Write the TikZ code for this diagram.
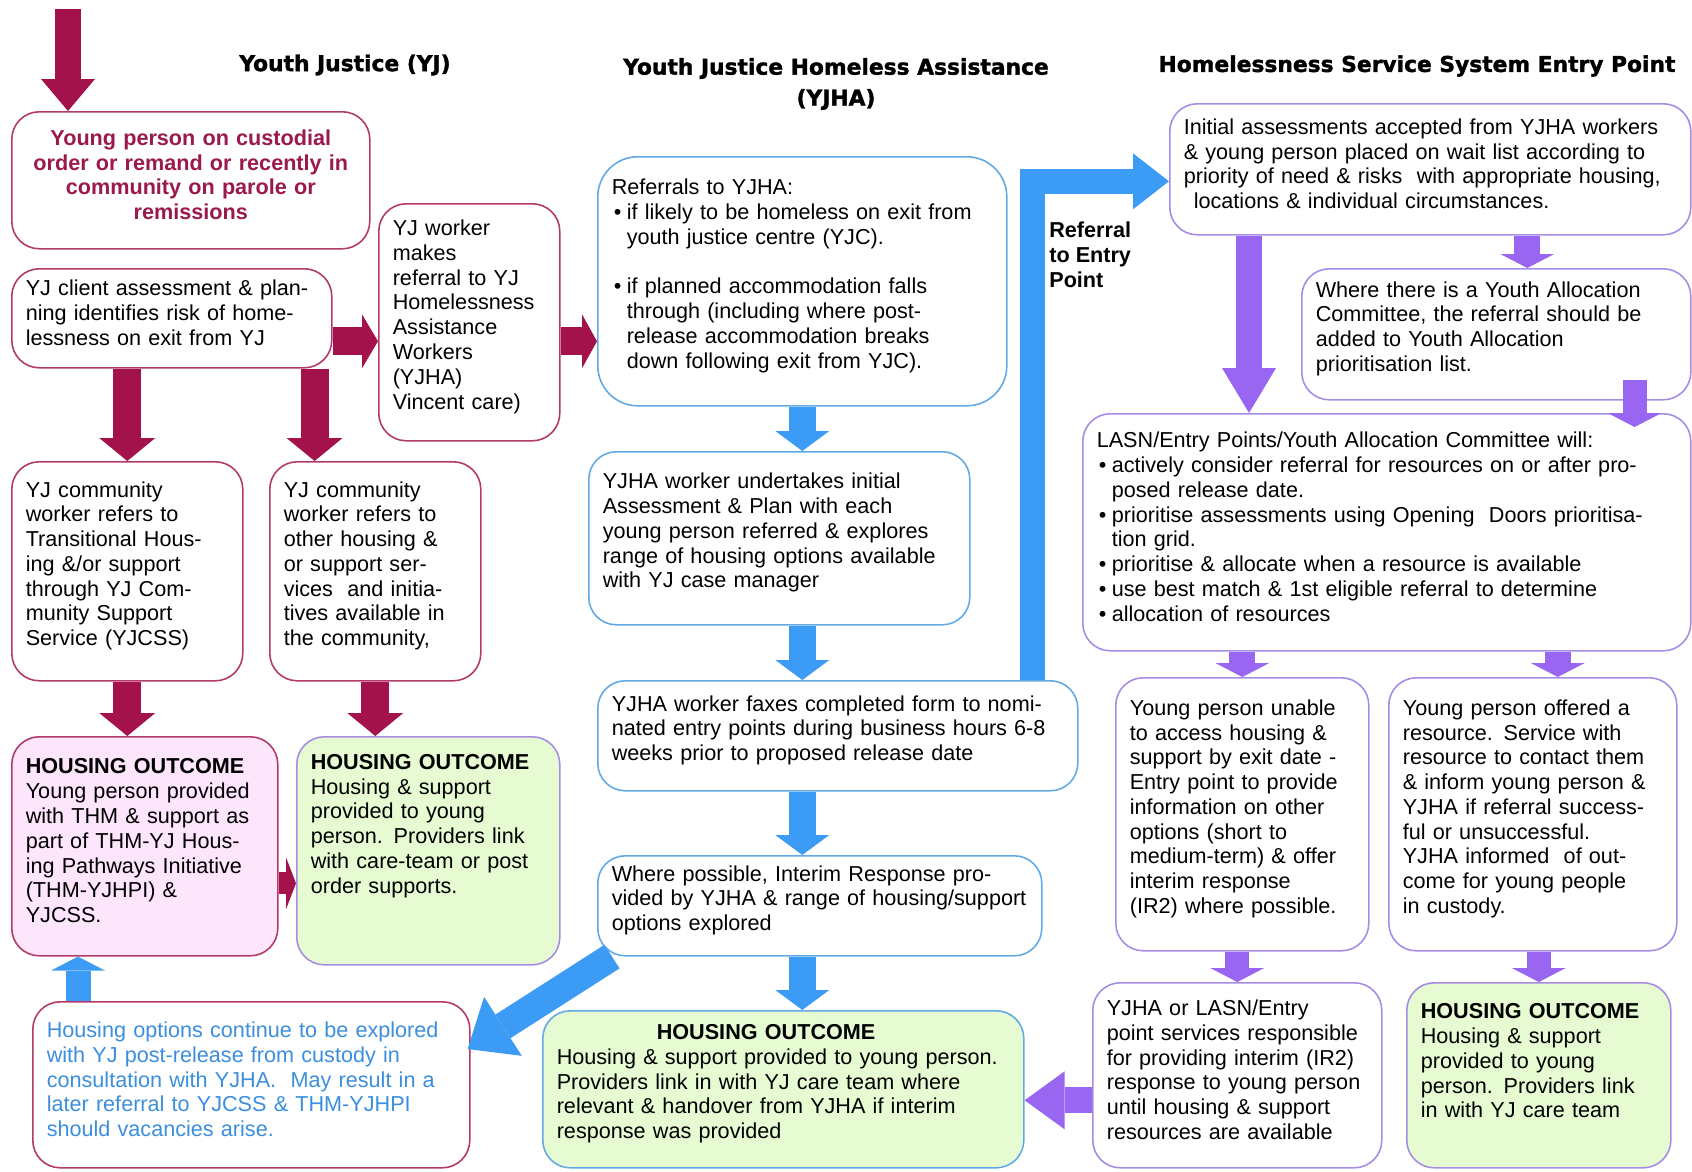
\documentclass[tikz,border=0pt]{standalone}
\usepackage{fontspec}
\setmainfont{Liberation Sans}
\newfontfamily\headfont{DejaVu Sans}[BoldFeatures={FakeBold=1.6}]
\usepackage{tikz}
\usetikzlibrary{arrows.meta,calc}
\usepackage{xcolor}

\definecolor{yjred}{HTML}{A3124A}
\definecolor{yjline}{HTML}{B23A68}
\definecolor{yjtext}{HTML}{9A1A4E}
\definecolor{yjblue}{HTML}{3C9BF5}
\definecolor{yjblueline}{HTML}{62AAE6}
\definecolor{yjpurple}{HTML}{9966F2}
\definecolor{yjpurpleline}{HTML}{A68CE4}
\definecolor{pinkfill}{HTML}{FDE5FB}
\definecolor{greenfill}{HTML}{E6FBD2}
\definecolor{optblue}{HTML}{3B8FDD}

\newcommand{\bul}{\hspace*{0.4mm}\makebox[2.6mm][l]{\textbullet}}
\newcommand{\ind}{\hspace*{3mm}}
\newcommand{\boxend}[1]{\par\vspace*{#1}}

\begin{document}
\begin{tikzpicture}[
    x=0.2mm, y=-0.2mm,
    every node/.style={font=\fontsize{12.3}{14.1}\selectfont, inner xsep=2.8mm, inner ysep=1.5mm},
    box/.style={draw=#1, line width=0.9pt, fill=white, rounded corners=5.5mm,
        anchor=north west, align=left, execute at end node={\boxend{2.2mm}}},
    headline/.style={font=\headfont\bfseries\fontsize{12.4}{17.6}\selectfont, align=center},
    redflow/.style={draw=yjred, line width=5.6mm,
        -{Triangle[length=4.6mm, width=11.2mm, line width=0pt]}},
    blueflow/.style={draw=yjblue, line width=5.4mm,
        -{Triangle[length=4mm, width=10.8mm, line width=0pt]}},
    purpleflow/.style={draw=yjpurple, line width=5.2mm,
        -{Triangle[length=2.8mm, width=10.8mm, line width=0pt]}},
    longtip/.style 2 args={-{Triangle[length=#1, width=#2, line width=0pt]}}
]
\useasboundingbox (0,0) rectangle (1692,1172);

% ---------------- Column titles ----------------
\node[headline] (yjtitle) at (345,65) {Youth Justice (YJ)};
\node[headline] (yjhatitle) at (836,84) {Youth Justice Homeless Assistance\\(YJHA)};
\node[headline] (hsstitle) at (1417,66) {Homelessness Service System Entry Point};

% ---------------- Youth Justice ----------------
\node[box=yjline, text width=66mm, minimum height=27.4mm, align=center, text=yjtext]
    (custody) at (11,111)
    {\bfseries Young person on custodial\\order or remand or recently in\\community on parole or\\remissions};
\node[box=yjline, text width=58.4mm, minimum height=19.8mm] (assess) at (11,268)
    {YJ client assessment \& plan-\\ning identifies risk of home-\\lessness on exit from YJ};
\node[box=yjline, text width=30.6mm, minimum height=47.4mm] (yjworker) at (378,203)
    {YJ worker\\makes\\referral to YJ\\Homelessness\\Assistance\\Workers\\(YJHA)\\Vincent care)};
\node[box=yjline, text width=40.6mm, minimum height=43.8mm] (thm) at (11,461)
    {YJ community\\worker refers to\\Transitional Hous-\\ing \&/or support\\through YJ Com-\\munity Support\\Service (YJCSS)};
\node[box=yjline, text width=36.6mm, minimum height=43.8mm] (other) at (269,461)
    {YJ community\\worker refers to\\other housing \&\\or support ser-\\vices~ and initia-\\tives available in\\the community,};
\node[box=yjline, fill=pinkfill, text width=47.6mm, minimum height=43.8mm] (outthm) at (11,736)
    {\textbf{HOUSING OUTCOME}\\Young person provided\\with THM \& support as\\part of THM-YJ Hous-\\ing Pathways Initiative\\(THM-YJHPI) \&\\YJCSS.};
\node[box=yjpurpleline, fill=greenfill, text width=47mm, minimum height=45.6mm] (outother) at (296,736)
    {\textbf{HOUSING OUTCOME}\\Housing \& support\\provided to young\\person. Providers link\\with care-team or post\\order supports.\boxend{7.7mm}};
\node[box=yjline, text width=81.8mm, minimum height=33.2mm, text=optblue] (options) at (32,1001)
    {Housing options continue to be explored\\with YJ post-release from custody in\\consultation with YJHA.~ May result in a\\later referral to YJCSS \& THM-YJHPI\\should vacancies arise.};

% ---------------- YJHA ----------------
\node[box=yjblueline, rounded corners=8mm, text width=76.2mm, minimum height=49.8mm] (referrals) at (597,156)
    {Referrals to YJHA:\\
     \bul if likely to be homeless on exit from\\
     \ind youth justice centre (YJC).\\
     \mbox{}\\
     \bul if planned accommodation falls\\
     \ind through (including where post-\\
     \ind release accommodation breaks\\
     \ind down following exit from YJC).};
\node[box=yjblueline, text width=70.6mm, minimum height=34.6mm] (plan) at (588,451)
    {YJHA worker undertakes initial\\Assessment \& Plan with each\\young person referred \& explores\\range of housing options available\\with YJ case manager};
\node[box=yjblueline, text width=90.4mm, minimum height=22mm] (fax) at (597,680)
    {YJHA worker faxes completed form to nomi-\\nated entry points during business hours 6-8\\weeks prior to proposed release date};
\node[box=yjblueline, text width=83.2mm, minimum height=20mm] (interim) at (597,855)
    {Where possible, Interim Response pro-\\vided by YJHA \& range of housing/support\\options explored};
\node[box=yjblueline, fill=greenfill, text width=90.6mm, minimum height=31.4mm] (outyjha) at (542,1010)
    {\hspace*{20mm}\textbf{HOUSING OUTCOME}\\Housing \& support provided to young person.\\Providers link in with YJ care team where\\relevant \& handover from YJHA if interim\\response was provided};
\node[anchor=west, align=left, font=\bfseries\fontsize{12.3}{14.1}\selectfont] (reflabel) at (1035,255)
    {Referral\\to Entry\\Point};

% ---------------- Entry Point ----------------
\node[box=yjpurpleline, text width=98.6mm, minimum height=26.2mm] (initial) at (1169,103)
    {Initial assessments accepted from YJHA workers\\\& young person placed on wait list according to\\priority of need \& risks~ with appropriate housing,\\\hspace*{2mm}locations \& individual circumstances.};
\node[box=yjpurpleline, text width=72.2mm, minimum height=26.2mm] (yac) at (1301,268)
    {Where there is a Youth Allocation\\Committee, the referral should be\\added to Youth Allocation\\prioritisation list.};
\node[box=yjpurpleline, text width=116mm, minimum height=47.4mm] (lasn) at (1082,413)
    {LASN/Entry Points/Youth Allocation Committee will:\\
     \bul actively consider referral for resources on or after pro-\\
     \ind posed release date.\\
     \bul prioritise assessments using Opening~ Doors prioritisa-\\
     \ind tion grid.\\
     \bul prioritise \& allocate when a resource is available\\
     \bul use best match \& 1st eligible referral to determine\\
     \bul allocation of resources};
\node[box=yjpurpleline, text width=45mm, minimum height=54.6mm] (unable) at (1115,677)
    {Young person unable\\to access housing \&\\support by exit date -\\Entry point to provide\\information on other\\options (short to\\medium-term) \& offer\\interim response\\(IR2) where possible.};
\node[box=yjpurpleline, text width=52mm, minimum height=54.6mm] (offered) at (1388,677)
    {Young person offered a\\resource. Service with\\resource to contact them\\\& inform young person \&\\YJHA if referral success-\\ful or unsuccessful.\\YJHA informed~ of out-\\come for young people\\in custody.};
\node[box=yjpurpleline, text width=52.2mm, minimum height=37mm] (irtwo) at (1092,982)
    {YJHA or LASN/Entry\\point services responsible\\for providing interim (IR2)\\response to young person\\until housing \& support\\resources are available};
\node[box=yjpurpleline, fill=greenfill, text width=47.2mm, minimum height=37mm] (outentry) at (1406,982)
    {\textbf{HOUSING OUTCOME}\\Housing \& support\\provided to young\\person. Providers link\\in with YJ care team\boxend{3.6mm}};

% ---------------- Red arrows ----------------
\coordinate (entry) at (68,9);
\draw[redflow, line width=5.2mm, longtip={6.4mm}{10.8mm}] (entry) -- (entry |- custody.north);
\draw[redflow, longtip={3.2mm}{10.8mm}] ($(assess.east)+(0,23)$) -- ($(assess.east -| yjworker.west)+(0,23)$);
\draw[redflow, longtip={3mm}{10.8mm}] ($(yjworker.east)+(0,19)$) -- ($(yjworker.east -| referrals.west)+(0,19)$);
\draw[redflow] (assess.south -| thm.north) -- (thm.north);
\draw[redflow] ($(assess.south east)+(-18,0)$) -- ($(assess.south east |- other.north)+(-18,0)$);
\draw[redflow] (thm.south) -- (thm.south |- outthm.north);
\draw[redflow] (other.south) -- (other.south |- outother.north);
\draw[redflow, line width=4.4mm, longtip={2mm}{10.4mm}] ($(outthm.east)+(0,37)$) -- ($(outthm.east -| outother.west)+(0,37)$);

% ---------------- Blue arrows ----------------
\draw[blueflow] (referrals.south) -- (referrals.south |- plan.north);
\draw[blueflow] (referrals.south |- plan.south) -- (referrals.south |- fax.north);
\draw[blueflow] (referrals.south |- fax.south) -- (referrals.south |- interim.north);
\draw[blueflow] (referrals.south |- interim.south) -- (referrals.south |- outyjha.north);
\draw[blueflow, line width=5.6mm, longtip={8.4mm}{14mm}] ($(interim.south west)+(15,0)$) -- ($(options.north east)+(-3,48)$);
\draw[blueflow, line width=5mm, longtip={2.8mm}{10.8mm}] ($(options.north west)+(46,0)$) -- ($(options.north west |- outthm.south)+(46,0)$);
\draw[blueflow, line width=5mm, longtip={7.2mm}{11.2mm}] ($(fax.north west)+(435,0)$) |- ($(initial.west)+(0,12)$);

% ---------------- Purple arrows ----------------
\draw[purpleflow, longtip={9mm}{10.8mm}] ($(initial.south west)+(80,0)$) -- ($(initial.south west |- lasn.north)+(80,0)$);
\draw[purpleflow] ($(initial.south -| yac.north)+(31,0)$) -- ($(yac.north)+(31,0)$);
\draw[purpleflow, line width=4.8mm] ($(yac.south east)+(-57,-21)$) -- ($(yac.south east |- lasn.north)+(-57,14)$);
\draw[purpleflow] (lasn.south -| unable.north) -- (unable.north);
\draw[purpleflow] ($(lasn.south -| offered.north)+(25,0)$) -- ($(offered.north)+(25,0)$);
\draw[purpleflow, line width=4.8mm] (unable.south -| irtwo.north) -- (irtwo.north);
\draw[purpleflow, line width=4.8mm] (offered.south -| outentry.north) -- (outentry.north);
\draw[purpleflow, longtip={8mm}{11.6mm}] ($(irtwo.west)+(0,25)$) -- ($(irtwo.west -| outyjha.east)+(0,25)$);

\end{tikzpicture}
\end{document}
